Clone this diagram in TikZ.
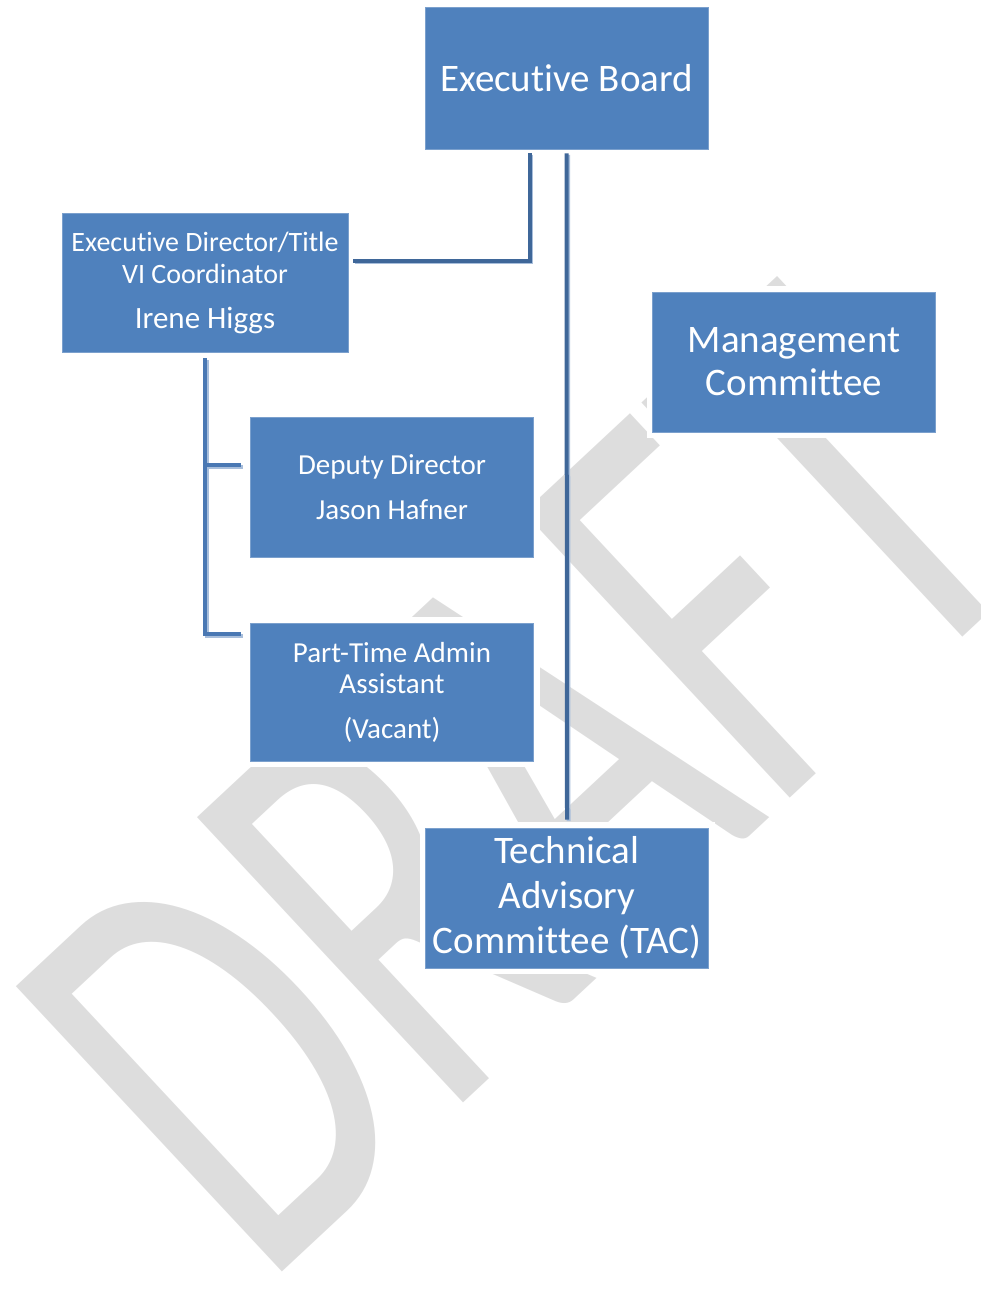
\documentclass[tikz,border=0pt]{standalone}
\usepackage{fontspec}
\setmainfont{Carlito}[Ligatures=NoCommon]

\definecolor{boxblue}{HTML}{4F81BD}
\definecolor{linedark}{HTML}{3F6799}
\definecolor{linelight}{HTML}{4A78B3}
\definecolor{shadowblue}{HTML}{A8BEDB}
\definecolor{wmgray}{HTML}{DDDDDD}

\tikzset{
  orgbox/.style={rectangle, fill=boxblue, draw=boxblue!75!white, line width=0.8pt,
    text=white, align=center, inner sep=0pt, minimum width=283pt, minimum height=140pt,
    preaction={draw=white, line width=12pt}},
  bigtext/.style={font=\fontsize{39}{45}\selectfont},
  smalltext/.style={font=\fontsize{29}{31}\selectfont},
  link/.style={line width=4pt,
    preaction={draw=shadowblue, line width=4pt, transform canvas={shift={(1.5pt,-1.5pt)}}}}
}

\begin{document}
\begin{tikzpicture}[x=1pt, y=-1pt]
\useasboundingbox (0,0) rectangle (980,1308);
\clip (0,0) rectangle (980,1308);

\node[text=wmgray, rotate=43, inner sep=0pt, font=\fontsize{400}{400}\selectfont] (draft) at (522,782) {\scalebox{1}[1.52]{DRAFT}};

\node[orgbox, bigtext, minimum height=142pt] (board) at (566.5,78) {Executive Board};
\node[orgbox, font=\fontsize{28}{32}\selectfont, minimum width=286pt, minimum height=139pt] (director) at (205,282.5)
  {Executive Director/Title\\VI Coordinator\\[13pt]{\fontsize{31}{32}\selectfont Irene Higgs}};
\node[orgbox, bigtext] (mgmt) at (794,362) {Management\\[-2pt]Committee};
\node[orgbox, smalltext] (deputy) at (392,487) {Deputy Director\\[14pt]Jason Hafner};
\node[orgbox, smalltext, minimum height=138pt] (admin) at (392,692) {Part-Time Admin\\Assistant\\[14pt](Vacant)};
\node[orgbox, bigtext] (tac) at (567,898) {Technical\\Advisory\\Committee (TAC)};

\draw[link, linedark] ([xshift=-37pt,yshift=-4pt]board.south) |- ([xshift=5pt,yshift=22pt]director.east);
\draw[link, linedark] ([yshift=-4pt]board.south) -- ([yshift=8pt]tac.north);

\coordinate (deputy tick) at ([xshift=-9pt,yshift=22pt]deputy.west);
\coordinate (admin tick) at ([xshift=-9pt,yshift=58pt]admin.west);
\draw[link, linelight] ([yshift=-6pt]director.south) |- (admin tick);
\draw[link, linelight] (director.south |- deputy tick) -- (deputy tick);
\end{tikzpicture}
\end{document}
